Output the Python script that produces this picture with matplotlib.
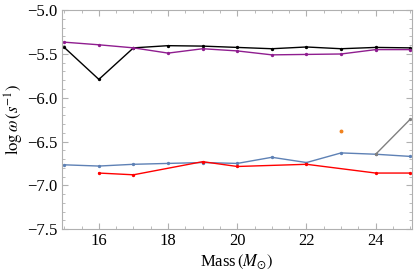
import matplotlib.pyplot as plt
from matplotlib.ticker import MultipleLocator

plt.rcParams['font.family'] = ['Liberation Serif', 'DejaVu Serif']
plt.rcParams['mathtext.fontset'] = 'stix'

# log(omega) vs mass
mass = [15, 16, 17, 18, 19, 20, 21, 22, 23, 24, 25]
black_y = [-5.425, -5.79, -5.43, -5.405, -5.41, -5.425, -5.44, -5.42, -5.44, -5.425, -5.43]
purple_y = [-5.365, -5.395, -5.43, -5.49, -5.44, -5.465, -5.51, -5.505, -5.50, -5.45, -5.45]
blue_y = [-6.766, -6.78, -6.76, -6.75, -6.74, -6.75, -6.68, -6.74, -6.63, -6.645, -6.67]
red_x = [16, 17, 19, 20, 22, 24, 25]
red_y = [-6.86, -6.88, -6.73, -6.785, -6.76, -6.86, -6.86]
gray_x = [24, 25]
gray_y = [-6.645, -6.245]
orange_x = [23]
orange_y = [-6.38]

fig = plt.figure(figsize=(4.15, 2.76), dpi=100)
ax = fig.add_axes([0.149, 0.17, 0.843, 0.793])

ax.plot(mass, black_y, color='black', lw=1, marker='o', ms=1.4)
ax.plot(mass, purple_y, color='#8f1d8f', lw=1, marker='o', ms=1.4)
ax.plot(mass, blue_y, color='#5e81b5', lw=1, marker='o', ms=1.4)
ax.plot(red_x, red_y, color='#ff0000', lw=1, marker='o', ms=1.4)
ax.plot(gray_x, gray_y, color='#808080', lw=1, marker='o', ms=1.4)
ax.plot(orange_x, orange_y, color='#f0821e', lw=0, marker='o', ms=1.8)

ax.set_xlim(14.93, 25.04)
ax.set_ylim(-7.5, -5.0)
ax.xaxis.set_major_locator(MultipleLocator(2))
ax.xaxis.set_minor_locator(MultipleLocator(0.5))
ax.yaxis.set_major_locator(MultipleLocator(0.5))
ax.yaxis.set_minor_locator(MultipleLocator(0.1))
ax.yaxis.set_major_formatter(plt.FuncFormatter(lambda v, p: '\u2212%.1f' % abs(v)))

for s in ax.spines.values():
    s.set_color('#b0b0b0')
    s.set_linewidth(0.8)
ax.tick_params(which='both', direction='in', color='#b0b0b0', labelsize=12, pad=3)
ax.tick_params(which='major', length=4)
ax.tick_params(which='minor', length=2)
ax.tick_params(axis='y', which='both', right=True)
ax.tick_params(axis='x', which='both', top=True)

ax.set_xlabel(r'Mass$\,(M_{\odot})$', fontsize=12, labelpad=2)
ax.set_ylabel(r'$\log\omega\,(s^{-1})$', fontsize=12, labelpad=1)

fig.savefig('out.png', dpi=100)
